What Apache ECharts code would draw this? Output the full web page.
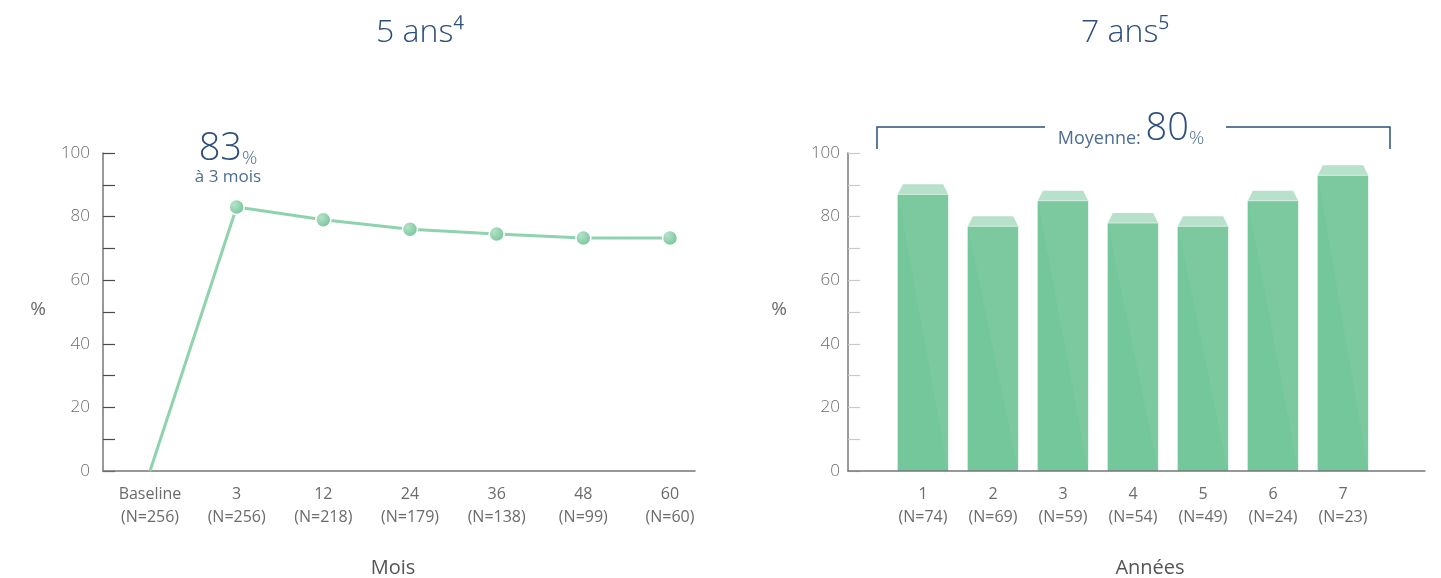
<!DOCTYPE html>
<html>
<head>
<meta charset="utf-8">
<script src="https://cdn.jsdelivr.net/npm/echarts@6/dist/echarts.min.js"></script>
<style>
html, body { margin: 0; padding: 0; background: #fff; }
#main { width: 1441px; height: 578px; }
</style>
</head>
<body>
<div id="main"></div>
<script>
// donnees
var moisLabels = ["Baseline", "3", "12", "24", "36", "48", "60"];
var moisN = [256, 256, 218, 179, 138, 99, 60];
var moisValues = [0, 83, 79, 76, 74.5, 73.3, 73.3];

var anneeLabels = ["1", "2", "3", "4", "5", "6", "7"];
var anneeN = [74, 69, 59, 54, 49, 24, 23];
var anneeValues = [87, 77, 85, 78, 77, 85, 93];

var yTicks = [0, 20, 40, 60, 80, 100];

var FONT = "Open Sans";
var BLUE = "#2d4f7c";
var BLUE2 = "#4d6d93";
var GREY = "#6b6b6b";

var frameAxisX = function(gridIndex){
	return {
		type: "value", gridIndex: gridIndex, min: 0, max: 1, z: 3,
		axisLine: { show: true, lineStyle: { color: "#77777a", width: 1.5 } },
		axisTick: { show: false }, axisLabel: { show: false }, splitLine: { show: false }
	};
}

var frameAxisY = function(gridIndex, tickColor, margin){
	return {
		type: "value", gridIndex: gridIndex,
		min: yTicks[0], max: yTicks[yTicks.length - 1], interval: 20,
		axisLine: { show: true, lineStyle: { color: "#77777a", width: 1.5 } },
		axisTick: { show: true, inside: true, length: 12, lineStyle: { color: tickColor, width: 1.2 } },
		minorTick: { show: true, splitNumber: 2, length: 12, lineStyle: { color: tickColor, width: 1.2 } },
		axisLabel: { color: GREY, fontFamily: FONT, fontWeight: 300, fontSize: 17, margin: margin },
		splitLine: { show: false }
	};
}

var catAxis = function(gridIndex, labels, nList, gap){
	return {
		type: "category", gridIndex: gridIndex, data: labels, boundaryGap: gap,
		axisLine: { show: false }, axisTick: { show: false },
		axisLabel: {
			interval: 0, margin: 12, color: GREY, fontFamily: FONT, fontSize: 16, lineHeight: 23,
			formatter: function(v, i){ return v + "\n(N=" + nList[i] + ")"; }
		}
	};
}

var hiddenY = function(gridIndex){
	return { type: "value", gridIndex: gridIndex, min: 0, max: 100, show: false };
}

/* barre "3D" : face + chapeau clair */
var renderBar = function(params, api){
	var top = api.coord([api.value(0), api.value(1)]);
	var base = api.coord([api.value(0), 0]);
	var w = api.size([1, 0])[0] * 0.72;
	var x = top[0] - w / 2;
	return {
		type: "group",
		children: [
			{ type: "rect", shape: { x: x, y: top[1], width: w, height: base[1] - top[1] }, style: { fill: "#7cc9a0" } },
			{ type: "polygon", shape: { points: [[x, top[1]], [x + w, base[1]], [x, base[1]]] }, style: { fill: "#74c69b" } },
			{ type: "polygon", shape: { points: [[x, top[1]], [x + w, top[1]], [x + w - 5, top[1] - 10], [x + 5, top[1] - 10]] }, style: { fill: "#b8e1cb" } },
			{ type: "line", shape: { x1: x, y1: top[1], x2: x + w, y2: top[1] }, style: { stroke: "#d4eedf", lineWidth: 1 } }
		]
	};
}

var buildOption = function(){
	var lineData = moisValues.map(function(v, i){
		if(i == 0) return { value: v, symbol: "none" };
		return v;
	});
	var barData = anneeValues.map(function(v, i){ return [i, v]; });

	return {
		animation: false,
		grid: [
			{ left: 103, top: 153, width: 592, height: 318 },
			{ left: 150, top: 153, width: 520, height: 318 },
			{ left: 848, top: 153, width: 577, height: 318 },
			{ left: 888, top: 153, width: 490, height: 318 }
		],
		xAxis: [
			frameAxisX(0),
			catAxis(1, moisLabels, moisN, false),
			frameAxisX(2),
			catAxis(3, anneeLabels, anneeN, true)
		],
		yAxis: [
			frameAxisY(0, "#4a4a4e", 13),
			hiddenY(1),
			frameAxisY(2, "#c9c9c9", 8),
			hiddenY(3)
		],
		series: [
			{
				type: "line", xAxisIndex: 1, yAxisIndex: 1, data: lineData,
				symbol: "circle", symbolSize: 15,
				lineStyle: { color: "#8ed3ad", width: 3 },
				itemStyle: {
					color: { type: "radial", x: 0.35, y: 0.35, r: 0.7,
						colorStops: [{ offset: 0, color: "#b4e2c8" }, { offset: 1, color: "#74c49a" }] },
					borderColor: "#ffffff", borderWidth: 1.5
				}
			},
			{
				type: "custom", xAxisIndex: 3, yAxisIndex: 3, data: barData,
				encode: { x: 0, y: 1 }, renderItem: renderBar
			}
		],
		graphic: [
			{ type: "text", x: 420, y: 33, style: { text: "5 ans⁴", fill: BLUE, fontFamily: FONT, fontWeight: 300, fontSize: 32, align: "center", verticalAlign: "middle" } },
			{ type: "text", x: 1125, y: 33, style: { text: "7 ans⁵", fill: BLUE, fontFamily: FONT, fontWeight: 300, fontSize: 32, align: "center", verticalAlign: "middle" } },
			{ type: "text", x: 228, y: 148, style: {
				text: "{a|83}{b|%}", align: "center", verticalAlign: "middle",
				rich: {
					a: { fill: BLUE, fontFamily: FONT, fontWeight: 300, fontSize: 38, verticalAlign: "bottom", lineHeight: 40 },
					b: { fill: BLUE2, fontFamily: FONT, fontWeight: 300, fontSize: 19, verticalAlign: "bottom", lineHeight: 30 }
				} } },
			{ type: "text", x: 228, y: 177, style: { text: "à 3 mois", fill: BLUE2, fontFamily: FONT, fontSize: 17, align: "center", verticalAlign: "middle" } },
			{ type: "text", x: 38, y: 310, style: { text: "%", fill: GREY, fontFamily: FONT, fontSize: 19, align: "center", verticalAlign: "middle" } },
			{ type: "text", x: 779, y: 310, style: { text: "%", fill: GREY, fontFamily: FONT, fontSize: 19, align: "center", verticalAlign: "middle" } },
			{ type: "text", x: 393, y: 568, style: { text: "Mois", fill: "#555", fontFamily: FONT, fontSize: 20, align: "center", verticalAlign: "middle" } },
			{ type: "text", x: 1150, y: 568, style: { text: "Années", fill: "#555", fontFamily: FONT, fontSize: 20, align: "center", verticalAlign: "middle" } },
			{ type: "polyline", shape: { points: [[877, 149], [877, 127], [1045, 127]] }, style: { stroke: BLUE, lineWidth: 1.5, fill: null } },
			{ type: "polyline", shape: { points: [[1226, 127], [1390, 127], [1390, 149]] }, style: { stroke: BLUE, lineWidth: 1.5, fill: null } },
			{ type: "text", x: 1131, y: 128, style: {
				text: "{a|Moyenne: }{b|80}{c|%}", align: "center", verticalAlign: "middle",
				rich: {
					a: { fill: BLUE2, fontFamily: FONT, fontSize: 18, verticalAlign: "bottom", lineHeight: 30 },
					b: { fill: BLUE, fontFamily: FONT, fontWeight: 300, fontSize: 38, verticalAlign: "bottom", lineHeight: 40 },
					c: { fill: BLUE2, fontFamily: FONT, fontWeight: 300, fontSize: 19, verticalAlign: "bottom", lineHeight: 30 }
				} } }
		]
	};
}

var chart = echarts.init(document.getElementById("main"));
chart.setOption(buildOption());
</script>
</body>
</html>
